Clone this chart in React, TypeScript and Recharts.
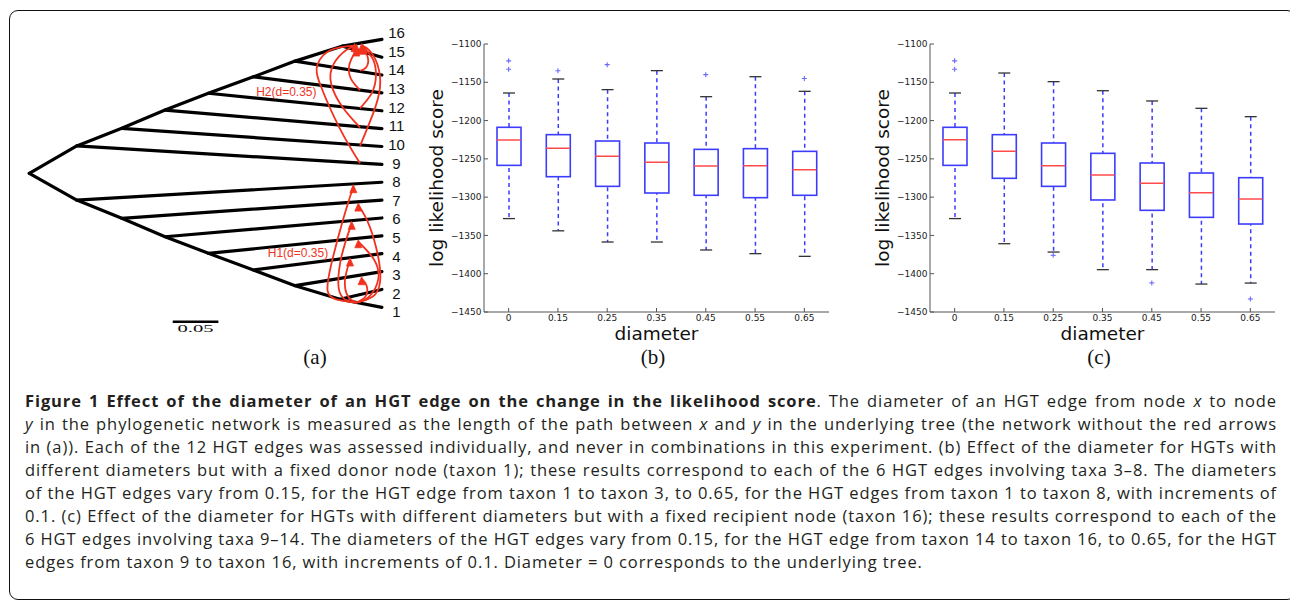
import React from 'react';
import { ComposedChart, Bar, Scatter, Line, XAxis, YAxis } from 'recharts';

// ---------- panels (b) and (c): box plots ----------
const categories = ['0', '0.15', '0.25', '0.35', '0.45', '0.55', '0.65'];
const yTicks = [-1100, -1150, -1200, -1250, -1300, -1350, -1400, -1450];

const bLowerWhisker = [-1328, -1344, -1358.6, -1358.6, -1369, -1373.8, -1377.3];
const bQ1 = [-1258.5, -1273.3, -1285.9, -1294.6, -1297.6, -1300.7, -1297.6];
const bMedian = [-1225.4, -1236.3, -1246.7, -1254.5, -1259.3, -1258.9, -1264.1];
const bQ3 = [-1208.8, -1218.4, -1226.7, -1229.3, -1237.6, -1236.7, -1240.2];
const bUpperWhisker = [-1164, -1145.7, -1159.6, -1134.8, -1168.8, -1142.7, -1161.8];
const bOutliers = [[-1122, -1133], [-1135], [-1127], [], [-1140], [], [-1145]];

const cLowerWhisker = [-1328, -1360.8, -1371.7, -1394.7, -1394.7, -1413.5, -1412.2];
const cQ1 = [-1258.5, -1275.4, -1285.9, -1303.7, -1317.2, -1326.4, -1335.1];
const cMedian = [-1225, -1240.2, -1258.9, -1271.1, -1282, -1294.2, -1302.4];
const cQ3 = [-1208.8, -1218.4, -1229.3, -1242.8, -1255.4, -1268.5, -1274.6];
const cUpperWhisker = [-1164, -1137.9, -1149.2, -1161, -1174.4, -1184, -1194.9];
const cOutliers = [[-1122, -1133], [], [-1376], [], [-1412], [], [-1433]];

// ---------- panel (a): tree (depth, leaf position) ----------
const leafDepth = 0.386;
const upperSpine: [number, number][] = [[0, 8.5], [0.0519, 10.03], [0.1012, 11.02], [0.1486, 12.04], [0.196, 12.98], [0.2453, 13.9], [0.291, 14.78], [0.343, 15.62], [0.386, 16]];
const lowerSpine: [number, number][] = [[0, 8.5], [0.0519, 7.0], [0.1012, 5.98], [0.1486, 4.95], [0.196, 4.02], [0.2453, 3.09], [0.291, 2.21], [0.3401, 1.45], [0.386, 1]];
const upperLeaves = [9, 10, 11, 12, 13, 14, 15];
const lowerLeaves = [8, 7, 6, 5, 4, 3, 2];
const leafNames = ['1', '2', '3', '4', '5', '6', '7', '8', '9', '10', '11', '12', '13', '14', '15', '16'];
const leafLabelY = [0.74, 1.78, 2.82, 3.87, 4.91, 5.96, 7.0, 8.04, 9.06, 10.1, 11.15, 12.2, 13.25, 14.3, 15.33, 16.37];
const leafLabelDepth = 0.402;

const h1Arrows: [number, number][][] = [
  [[0.358, 1.26], [0.336, 1.45], [0.3265, 1.95], [0.331, 3.5], [0.344, 6.0], [0.3547, 7.75]],
  [[0.358, 1.26], [0.376, 1.6], [0.3839, 2.4], [0.382, 3.8], [0.372, 5.6], [0.3602, 6.72]],
  [[0.358, 1.26], [0.344, 1.5], [0.3383, 2.3], [0.342, 3.9], [0.3529, 5.7]],
  [[0.358, 1.26], [0.372, 1.6], [0.3821, 2.6], [0.377, 3.7], [0.3602, 4.67]],
  [[0.358, 1.26], [0.349, 1.6], [0.3455, 2.5], [0.3511, 3.65]],
  [[0.358, 1.26], [0.368, 1.6], [0.3693, 2.2], [0.3638, 2.6]],
];
const h2Arrows: [number, number][][] = [
  [[0.362, 9.06], [0.34, 11.0], [0.319, 13.4], [0.3155, 14.6], [0.33, 15.4], [0.356, 15.65]],
  [[0.362, 10.03], [0.376, 11.8], [0.3839, 13.3], [0.381, 14.6], [0.372, 15.4], [0.364, 15.65]],
  [[0.362, 11.07], [0.343, 12.2], [0.3305, 13.5], [0.333, 14.6], [0.347, 15.4], [0.358, 15.62]],
  [[0.362, 12.14], [0.375, 13.0], [0.3795, 14.0], [0.376, 14.9], [0.366, 15.55]],
  [[0.362, 13.16], [0.352, 13.8], [0.3505, 14.6], [0.358, 15.4]],
  [[0.362, 14.24], [0.369, 14.45], [0.3705, 15.0], [0.364, 15.5]],
];
const hgtLabels = [
  { x: 0.2814, y: 13.07, label: 'H2(d=0.35)' },
  { x: 0.2941, y: 4.02, label: 'H1(d=0.35)' },
];
const scaleBar: [number, number][] = [[0.157, 0.194], [0.207, 0.194]];
const scaleLabel = { x: 0.182, y: -0.16, label: '0.05' };

const RED = '#f2321e';
const BLUE = '#3c3cff';

const toPts = (arr: [number, number][]) => arr.map(([x, y], i) => ({ x, y, tip: i === arr.length - 1 }));

const buildRows = (lo: number[], q1: number[], med: number[], q3: number[], hi: number[], out: number[][]) =>
  categories.map((cat, i) => ({
    cat,
    whisker: [lo[i], hi[i]],
    box: [q1[i], q3[i]],
    med: med[i],
    out1: out[i].length > 0 ? out[i][0] : null,
    out2: out[i].length > 1 ? out[i][1] : null,
  }));

const bRows = buildRows(bLowerWhisker, bQ1, bMedian, bQ3, bUpperWhisker, bOutliers);
const cRows = buildRows(cLowerWhisker, cQ1, cMedian, cQ3, cUpperWhisker, cOutliers);

const WhiskerShape = (p: any) => {
  const top = Math.min(p.y, p.y + p.height);
  const bot = Math.max(p.y, p.y + p.height);
  const cx = p.x + p.width / 2;
  const cw = p.width / 4;
  return (
    <g>
      <line x1={cx} x2={cx} y1={top} y2={bot} stroke={BLUE} strokeWidth={1.5} strokeDasharray="4 3.5" />
      <line x1={cx - cw} x2={cx + cw} y1={top} y2={top} stroke="#333" strokeWidth={1.3} />
      <line x1={cx - cw} x2={cx + cw} y1={bot} y2={bot} stroke="#333" strokeWidth={1.3} />
    </g>
  );
};

const BoxShape = (p: any) => {
  const top = Math.min(p.y, p.y + p.height);
  const h = Math.abs(p.height);
  return <rect x={p.x} y={top} width={p.width} height={h} fill="#fff" stroke={BLUE} strokeWidth={1.6} />;
};

const MedianShape = (p: any) => {
  if (!Number.isFinite(p.cx) || !Number.isFinite(p.cy)) return <g />;
  return <line x1={p.cx - 12} x2={p.cx + 12} y1={p.cy} y2={p.cy} stroke="#ff4a4a" strokeWidth={1.5} />;
};

const makePlus = (key: string) => (p: any) => {
  if (!p.payload || p.payload[key] == null || !Number.isFinite(p.cy)) return <g />;
  return (
    <g stroke="#6a6aff" strokeWidth={1.1}>
      <line x1={p.cx - 2.5} x2={p.cx + 2.5} y1={p.cy} y2={p.cy} />
      <line x1={p.cx} x2={p.cx} y1={p.cy - 2.5} y2={p.cy + 2.5} />
    </g>
  );
};
const Plus1 = makePlus('out1');
const Plus2 = makePlus('out2');

const fmtTick = (v: number) => String(v).replace('-', '\u2212');

function BoxPanel({ rows, left }: { rows: any[]; left: number }) {
  return (
    <div style={{ position: 'absolute', left, top: 30, width: 420, height: 312 }}>
      <ComposedChart width={420} height={312} data={rows} margin={{ top: 14, right: 11, bottom: 0, left: 0 }}>
        <XAxis xAxisId="b" dataKey="cat" type="category" orientation="bottom" height={30} interval={0}
          tickSize={-4} tickMargin={7} stroke="#555" tick={{ fill: '#222', fontSize: 9, fontFamily: 'DejaVu Sans' }} />
        <XAxis xAxisId="t" dataKey="cat" type="category" orientation="top" height={0} interval={0}
          tickSize={-4} tick={false} stroke="#555" />
        <XAxis xAxisId="w" dataKey="cat" type="category" hide />
        <YAxis yAxisId="l" type="number" domain={[-1450, -1100]} ticks={yTicks} allowDataOverflow width={64}
          tickSize={-4} tickMargin={6.5} stroke="#555" tickFormatter={fmtTick} interval={0}
          tick={{ fill: '#222', fontSize: 9, fontFamily: 'DejaVu Sans' }} />
        <YAxis yAxisId="r" orientation="right" type="number" domain={[-1450, -1100]} ticks={yTicks} allowDataOverflow
          width={0} tickSize={-4} tick={false} stroke="#555" interval={0} />
        <Bar xAxisId="w" yAxisId="l" dataKey="whisker" barSize={24} shape={WhiskerShape} isAnimationActive={false} />
        <Bar xAxisId="b" yAxisId="l" dataKey="box" barSize={24} shape={BoxShape} isAnimationActive={false} />
        <Scatter xAxisId="b" yAxisId="l" dataKey="med" shape={MedianShape} isAnimationActive={false} />
        <Scatter xAxisId="b" yAxisId="l" dataKey="out1" shape={Plus1} isAnimationActive={false} />
        <Scatter xAxisId="b" yAxisId="l" dataKey="out2" shape={Plus2} isAnimationActive={false} />
      </ComposedChart>
    </div>
  );
}

const NoMark = () => <g />;
const ArrowTip = (p: any) => {
  if (!p.payload || !p.payload.tip) return <g />;
  const { cx, cy } = p;
  return <path d={`M${cx},${cy - 2} L${cx - 3.5},${cy + 6} L${cx + 3.5},${cy + 6} Z`} fill={RED} stroke={RED} strokeWidth={0.8} />;
};

const LeafText = (p: any) => (
  <text x={p.cx} y={p.cy} textAnchor="middle" dominantBaseline="central" fontFamily="Liberation Sans" fontSize={15} fill="#111">
    {p.payload.label}
  </text>
);
const HgtText = (p: any) => (
  <text x={p.cx} y={p.cy} textAnchor="middle" dominantBaseline="central" fontFamily="Liberation Sans" fontSize={12} fill={RED}>
    {p.payload.label}
  </text>
);
const ScaleText = (p: any) => (
  <text x={p.cx} y={p.cy} textAnchor="middle" dominantBaseline="central" fontFamily="Liberation Serif" fontSize={10}
    textLength={36} lengthAdjust="spacingAndGlyphs" fill="#111">
    {p.payload.label}
  </text>
);

function TreePanel() {
  const branches: [number, number][][] = [];
  upperLeaves.forEach((leaf, i) => branches.push([upperSpine[i + 1], [leafDepth, leaf]]));
  lowerLeaves.forEach((leaf, i) => branches.push([lowerSpine[i + 1], [leafDepth, leaf]]));
  const leafData = leafNames.map((label, i) => ({ x: leafLabelDepth, y: leafLabelY[i], label }));
  return (
    <div style={{ position: 'absolute', left: 0, top: 0, width: 420, height: 370 }}>
      <ComposedChart width={420} height={370} margin={{ top: 0, right: 0, bottom: 0, left: 0 }}>
        <XAxis type="number" dataKey="x" domain={[-0.0321, 0.4277]} allowDataOverflow hide />
        <YAxis type="number" dataKey="y" domain={[-2.509, 18.2]} allowDataOverflow hide />
        {[upperSpine, lowerSpine, ...branches].map((seg, i) => (
          <Scatter key={`t${i}`} data={toPts(seg)} dataKey="y" fill="#000" shape={NoMark}
            line={{ stroke: '#000', strokeWidth: 3.2, strokeLinecap: 'round', strokeLinejoin: 'round' }}
            lineJointType="linear" isAnimationActive={false} />
        ))}
        <Scatter data={toPts(scaleBar)} dataKey="y" fill="#000" shape={NoMark}
          line={{ stroke: '#000', strokeWidth: 2.5 }} lineJointType="linear" isAnimationActive={false} />
        {[...h1Arrows, ...h2Arrows].map((arr, i) => (
          <Scatter key={`h${i}`} data={toPts(arr)} dataKey="y" fill={RED} shape={ArrowTip}
            line={{ stroke: RED, strokeWidth: 1.8 }} lineJointType="natural" isAnimationActive={false} />
        ))}
        <Scatter data={leafData} dataKey="y" shape={LeafText} isAnimationActive={false} />
        <Scatter data={hgtLabels} dataKey="y" shape={HgtText} isAnimationActive={false} />
        <Scatter data={[scaleLabel]} dataKey="y" shape={ScaleText} isAnimationActive={false} />
      </ComposedChart>
    </div>
  );
}

const Txt = ({ x, y, size, family, rotate, children }: any) => (
  <div style={{
    position: 'absolute', left: x, top: y, transform: `translate(-50%, -50%) rotate(${rotate || 0}deg)`,
    fontSize: size, fontFamily: family, whiteSpace: 'nowrap', lineHeight: 1, color: '#111',
  }}>{children}</div>
);

const captionLines: React.ReactNode[] = [
  <><b>Figure 1 Effect of the diameter of an HGT edge on the change in the likelihood score</b>. The diameter of an HGT edge from node <i>x</i> to node</>,
  <><i>y</i> in the phylogenetic network is measured as the length of the path between <i>x</i> and <i>y</i> in the underlying tree (the network without the red arrows</>,
  <>in (a)). Each of the 12 HGT edges was assessed individually, and never in combinations in this experiment. (b) Effect of the diameter for HGTs with</>,
  <>different diameters but with a fixed donor node (taxon 1); these results correspond to each of the 6 HGT edges involving taxa 3–8. The diameters</>,
  <>of the HGT edges vary from 0.15, for the HGT edge from taxon 1 to taxon 3, to 0.65, for the HGT edges from taxon 1 to taxon 8, with increments of</>,
  <>0.1. (c) Effect of the diameter for HGTs with different diameters but with a fixed recipient node (taxon 16); these results correspond to each of the</>,
  <>6 HGT edges involving taxa 9–14. The diameters of the HGT edges vary from 0.15, for the HGT edge from taxon 14 to taxon 16, to 0.65, for the HGT</>,
  <>edges from taxon 9 to taxon 16, with increments of 0.1. Diameter = 0 corresponds to the underlying tree.</>,
];

export default function App() {
  return (
    <div style={{ position: 'absolute', left: 0, top: 0, width: 1290, height: 601, background: '#fff', overflow: 'hidden' }}>
      <div style={{ position: 'absolute', left: 9, top: 10, width: 1287, height: 590, border: '1.5px solid #111', borderRadius: 9, boxSizing: 'border-box' }} />
      <TreePanel />
      <BoxPanel rows={bRows} left={420} />
      <BoxPanel rows={cRows} left={866} />
      <Txt x={437} y={178} size={18.5} family="DejaVu Sans" rotate={-90}>log likelihood score</Txt>
      <Txt x={883} y={178} size={18.5} family="DejaVu Sans" rotate={-90}>log likelihood score</Txt>
      <Txt x={656.5} y={334} size={18.5} family="DejaVu Sans">diameter</Txt>
      <Txt x={1102.5} y={334} size={18.5} family="DejaVu Sans">diameter</Txt>
      <Txt x={315} y={357} size={21} family="Liberation Serif">(a)</Txt>
      <Txt x={653} y={357} size={21} family="Liberation Serif">(b)</Txt>
      <Txt x={1099} y={357} size={21} family="Liberation Serif">(c)</Txt>
      <div style={{ position: 'absolute', left: 25, top: 389, width: 1252, fontFamily: 'Open Sans', fontSize: 16.5, letterSpacing: 0.9, lineHeight: '23px', color: '#231f20' }}>
        {captionLines.map((ln, i) => (
          <div key={i} style={{ textAlign: 'justify', textAlignLast: i === captionLines.length - 1 ? 'left' : 'justify', whiteSpace: 'nowrap' }}>{ln}</div>
        ))}
      </div>
    </div>
  );
}
